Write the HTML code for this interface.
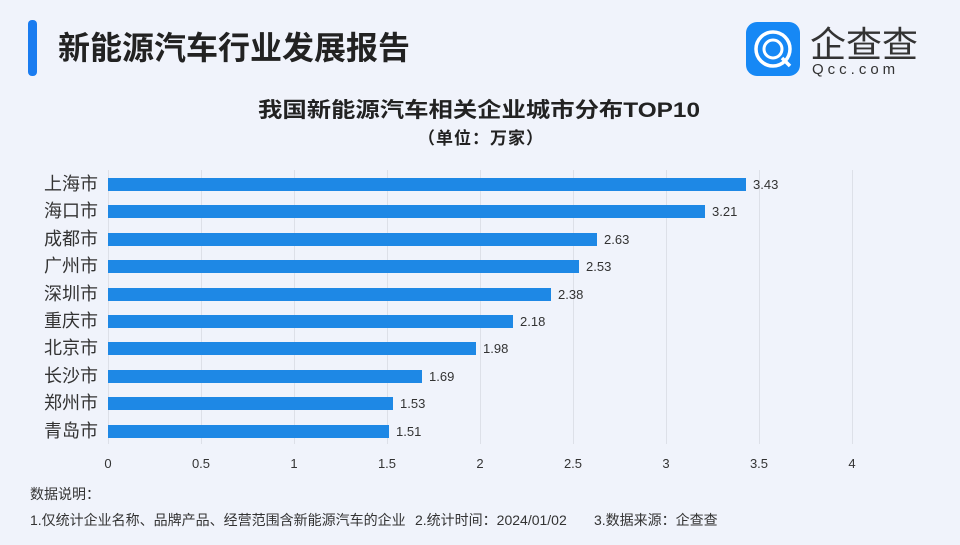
<!DOCTYPE html>
<html><head><meta charset="utf-8"><style>
body{margin:0;width:960px;height:540px;background:#f0f3fb;overflow:hidden;font-family:"Liberation Sans","Noto Sans CJK SC",sans-serif}
</style></head><body>
<svg width="960" height="540" xmlns="http://www.w3.org/2000/svg" style="font-family:'Liberation Sans','Noto Sans CJK SC',sans-serif">
<rect width="960" height="540" fill="#f0f3fb"/>
<rect x="28" y="20" width="9" height="56" rx="4" fill="#1a7cf0"/>
<text x="58" y="59" font-size="32" font-weight="bold" fill="#222">新能源汽车行业发展报告</text>
<rect x="746" y="22" width="54" height="54" rx="11" fill="#1688f5"/>
<circle cx="773" cy="49" r="17" fill="none" stroke="#fff" stroke-width="3.5"/>
<circle cx="773" cy="49" r="9" fill="none" stroke="#fff" stroke-width="3"/>
<line x1="782" y1="58" x2="790" y2="66" stroke="#fff" stroke-width="3.5"/>
<text x="810" y="57" font-size="36" fill="#333">企查查</text>
<text x="812" y="74" font-size="15" fill="#333" letter-spacing="4">Qcc.com</text>
<text x="258" y="117" font-size="21" font-weight="bold" fill="#222" textLength="442" lengthAdjust="spacingAndGlyphs">我国新能源汽车相关企业城市分布TOP10</text>
<text x="418" y="144" font-size="17" font-weight="bold" fill="#222" textLength="125" lengthAdjust="spacing">（单位：万家）</text>
<g stroke="#dde0e8" stroke-width="1">
<line x1="108.5" y1="170" x2="108.5" y2="444"/><line x1="201.5" y1="170" x2="201.5" y2="444"/><line x1="294.5" y1="170" x2="294.5" y2="444"/><line x1="387.5" y1="170" x2="387.5" y2="444"/><line x1="480.5" y1="170" x2="480.5" y2="444"/><line x1="573.5" y1="170" x2="573.5" y2="444"/><line x1="666.5" y1="170" x2="666.5" y2="444"/><line x1="759.5" y1="170" x2="759.5" y2="444"/><line x1="852.5" y1="170" x2="852.5" y2="444"/>
</g>
<g font-size="13" fill="#333" text-anchor="middle">
<text x="108" y="468">0</text><text x="201" y="468">0.5</text><text x="294" y="468">1</text><text x="387" y="468">1.5</text><text x="480" y="468">2</text><text x="573" y="468">2.5</text><text x="666" y="468">3</text><text x="759" y="468">3.5</text><text x="852" y="468">4</text>
</g>
<g fill="#1e88e5">
<rect x="108" y="178" width="638" height="13"/>
<rect x="108" y="205" width="597" height="13"/>
<rect x="108" y="233" width="489" height="13"/>
<rect x="108" y="260" width="471" height="13"/>
<rect x="108" y="288" width="443" height="13"/>
<rect x="108" y="315" width="405" height="13"/>
<rect x="108" y="342" width="368" height="13"/>
<rect x="108" y="370" width="314" height="13"/>
<rect x="108" y="397" width="285" height="13"/>
<rect x="108" y="425" width="281" height="13"/>
</g>
<g font-size="13" fill="#333">
<text x="753" y="189">3.43</text><text x="712" y="216">3.21</text><text x="604" y="244">2.63</text><text x="586" y="271">2.53</text><text x="558" y="299">2.38</text><text x="520" y="326">2.18</text><text x="483" y="353">1.98</text><text x="429" y="381">1.69</text><text x="400" y="408">1.53</text><text x="396" y="436">1.51</text>
</g>
<g font-size="18" fill="#333" text-anchor="end">
<text x="98" y="190">上海市</text><text x="98" y="217">海口市</text><text x="98" y="245">成都市</text><text x="98" y="272">广州市</text><text x="98" y="300">深圳市</text><text x="98" y="327">重庆市</text><text x="98" y="354">北京市</text><text x="98" y="382">长沙市</text><text x="98" y="409">郑州市</text><text x="98" y="437">青岛市</text>
</g>
<text x="30" y="499" font-size="14" fill="#333">数据说明：</text>
<text x="30" y="525" font-size="14" fill="#333">1.仅统计企业名称、品牌产品、经营范围含新能源汽车的企业<tspan x="415">2.统计时间：2024/01/02</tspan><tspan x="594">3.数据来源：企查查</tspan></text>
</svg>
</body></html>
